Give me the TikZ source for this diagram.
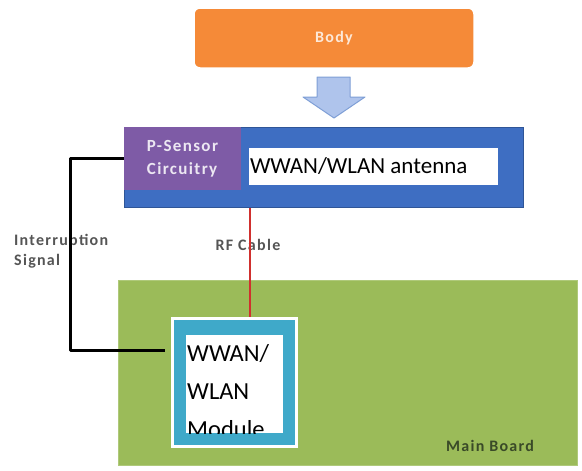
\documentclass[tikz,border=0pt]{standalone}
\usepackage{fontspec}
\setmainfont{Carlito}
\newfontfamily\lblfont[LetterSpace=8]{Carlito}
\definecolor{bodyor}{HTML}{F58A38}
\definecolor{antblue}{HTML}{3E6EC2}
\definecolor{antedge}{HTML}{2F5597}
\definecolor{psens}{HTML}{7E5BA6}
\definecolor{board}{HTML}{9BBB59}
\definecolor{modcyan}{HTML}{3FA9C9}
\definecolor{arrfill}{HTML}{AFC4EC}
\definecolor{arredge}{HTML}{7F9FD6}
\definecolor{labgray}{HTML}{555555}
\definecolor{boardtxt}{HTML}{3A4A28}
\definecolor{rfred}{HTML}{D0302E}
\tikzset{
  bodybox/.style={rectangle, rounded corners=6pt, fill=bodyor, draw=white, line width=1.5pt,
    minimum width=280pt, minimum height=60pt, inner sep=0pt, text=white!80!bodyor, font=\lblfont\fontsize{16}{18}\selectfont\bfseries},
  antbox/.style={rectangle, fill=antblue, draw=antedge, line width=1pt, minimum width=399pt, minimum height=80pt, inner sep=0pt},
  psbox/.style={rectangle, fill=psens, minimum width=117pt, minimum height=63pt, inner sep=0pt,
    text=white!85!psens, font=\lblfont\fontsize{17}{23}\selectfont\bfseries, align=left},
  labbox/.style={rectangle, fill=white, minimum width=249pt, minimum height=37pt, inner sep=0pt},
  boardbox/.style={rectangle, fill=board, draw=board!80!white, line width=1pt, minimum width=459pt, minimum height=185pt, inner sep=0pt},
  modbox/.style={rectangle, fill=modcyan, draw=white, line width=3pt, minimum width=124pt, minimum height=128pt, inner sep=0pt},
  bigtxt/.style={font=\fontsize{24.5}{28}\selectfont, text=black, inner sep=0pt},
  smalltxt/.style={font=\lblfont\fontsize{16}{20}\selectfont\bfseries, text=labgray, inner sep=0pt, align=left},
}
\begin{document}
\begin{tikzpicture}[x=1pt,y=-1pt]
\useasboundingbox (0,0) rectangle (582,471);
\fill[white] (0,0) rectangle (582,471);
% body
\node[bodybox] (body) at (334,38) {Body};
% block arrow
\draw[fill=arrfill, draw=arredge, line width=1pt, line join=round]
  (317,77) -- (350,77) -- (350,97) -- (365,97) -- (334,118) -- (303,97) -- (317,97) -- cycle;
% antenna board
\node[antbox] (ant) at (323.5,167) {};
\node[psbox] (ps) at (182.5,158.5) {P-Sensor\\Circuitry};
\node[labbox] (lab) at (373.5,166.5) {};
\node[bigtxt, font=\fontsize{23}{28}\selectfont, anchor=west] (labt) at ([xshift=1pt]lab.west) {WWAN/WLAN antenna};
% main board
\node[boardbox] (mb) at (347.5,372.5) {};
\node[smalltxt, text=boardtxt] (mbt) at (490,446) {Main Board};
% module
\node[modbox] (mod) at (234.5,382.5) {};
\node[rectangle, fill=white, minimum width=97pt, minimum height=98pt, inner sep=0pt] (modin) at (234.5,384) {};
\begin{scope}
  \clip (modin.south west) rectangle (modin.north east);
  \node[bigtxt, anchor=base west] (m1) at (187,361) {WWAN/};
  \node[bigtxt, anchor=base west] (m2) at (187,399) {WLAN};
  \node[bigtxt, anchor=base west] (m3) at (187,437) {Module};
\end{scope}
% labels
\node[smalltxt] (rft) at (248,245) {RF Cable};
\node[smalltxt, anchor=north west] (intt) at (14,234) {Interruption\\Signal};
% RF cable
\coordinate (rf) at (250,0);
\draw[rfred, line width=2pt] (rf |- ant.south) -- (rf |- mod.north);
% interruption signal
\coordinate (intend) at (165,350);
\draw[black, line width=3pt, line join=round] (ps.west) -- (70,0 |- ps.west) |- (intend);
\end{tikzpicture}
\end{document}
